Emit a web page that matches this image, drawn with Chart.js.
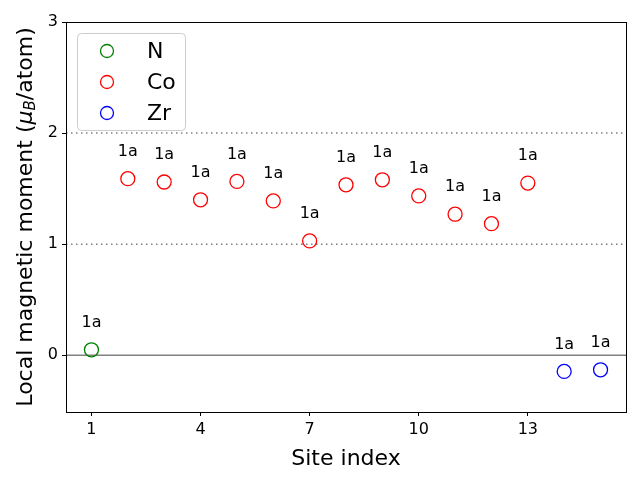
<!DOCTYPE html>
<html>
<head>
<meta charset="utf-8">
<script src="https://cdn.jsdelivr.net/npm/chart.js@4"></script>
<style>
  html, body { margin: 0; padding: 0; background: #fff; }
  #wrap { width: 640px; height: 480px; }
</style>
</head>
<body>
<div id="wrap"><canvas id="momentChart" width="640" height="480"></canvas></div>
<script>
// site data
const nSites = [1];
const nMoments = [0.05];
const coSites = [2, 3, 4, 5, 6, 7, 8, 9, 10, 11, 12, 13];
const coMoments = [1.59, 1.56, 1.40, 1.565, 1.39, 1.03, 1.535, 1.58, 1.435, 1.27, 1.185, 1.55];
const zrSites = [14, 15];
const zrMoments = [-0.145, -0.13];
const siteLabels = ['1a', '1a', '1a', '1a', '1a', '1a', '1a', '1a', '1a', '1a', '1a', '1a', '1a', '1a', '1a'];
const xTicks = [1, 4, 7, 10, 13];
const yTicks = [0, 1, 2, 3];
const refLines = [0, 1, 2];

const FONT = "'DejaVu Sans', sans-serif";

function toPoints(xs, ys) {
    return xs.map((x, i) => ({ x: x, y: ys[i] }));
}

function makeSet(label, color, xs, ys) {
    return {
        label: label,
        data: toPoints(xs, ys),
        showLine: false,
        pointRadius: 7,
        pointHoverRadius: 7,
        pointBorderWidth: 1.3,
        pointBackgroundColor: 'rgba(0,0,0,0)',
        pointBorderColor: color,
        borderColor: color,
        backgroundColor: 'rgba(0,0,0,0)'
    };
}

// horizontal reference lines + frame
const refLinePlugin = {
    id: 'refLines',
    beforeDatasetsDraw(chart) {
        const { ctx, chartArea: a, scales: { y } } = chart;
        ctx.save();
        refLines.forEach(v => {
            const py = y.getPixelForValue(v);
            ctx.beginPath();
            if (v === 0) {
                ctx.setLineDash([]);
            } else {
                ctx.setLineDash([1.5, 3.5]);
            }
            ctx.lineWidth = 1.5;
            ctx.strokeStyle = '#808080';
            ctx.moveTo(a.left, py);
            ctx.lineTo(a.right, py);
            ctx.stroke();
        });
        ctx.restore();
    },
    afterDraw(chart) {
        const { ctx, chartArea: a } = chart;
        ctx.save();
        ctx.strokeStyle = '#000';
        ctx.lineWidth = 1;
        ctx.strokeRect(a.left + 0.5, a.top + 0.5, a.right - a.left, a.bottom - a.top);
        ctx.restore();
    }
};

// wyckoff labels above each point
const siteLabelPlugin = {
    id: 'siteLabels',
    afterDatasetsDraw(chart) {
        const { ctx } = chart;
        ctx.save();
        ctx.font = '16px ' + FONT;
        ctx.fillStyle = '#000';
        ctx.textAlign = 'center';
        ctx.textBaseline = 'middle';
        chart.data.datasets.forEach((ds, di) => {
            const meta = chart.getDatasetMeta(di);
            meta.data.forEach((pt, i) => {
                const site = ds.data[i].x;
                ctx.fillText(siteLabels[site - 1], pt.x, pt.y - 27);
            });
        });
        ctx.restore();
    }
};

// legend box in upper left
const legendPlugin = {
    id: 'boxLegend',
    afterDraw(chart) {
        const { ctx, chartArea: a } = chart;
        const x0 = a.left + 11, y0 = a.top + 11, w = 108, h = 97;
        ctx.save();
        ctx.fillStyle = 'rgba(255,255,255,0.8)';
        ctx.strokeStyle = '#cccccc';
        ctx.lineWidth = 1;
        ctx.beginPath();
        ctx.roundRect(x0 + 0.5, y0 + 0.5, w, h, 4);
        ctx.fill();
        ctx.stroke();
        ctx.font = '22px ' + FONT;
        ctx.textBaseline = 'middle';
        ctx.textAlign = 'left';
        chart.data.datasets.forEach((ds, i) => {
            const cy = y0 + 18 + i * 31;
            ctx.beginPath();
            ctx.arc(x0 + 30, cy, 6.5, 0, Math.PI * 2);
            ctx.strokeStyle = ds.pointBorderColor;
            ctx.lineWidth = 1.3;
            ctx.stroke();
            ctx.fillStyle = '#000';
            ctx.fillText(ds.label, x0 + 70, cy + 1);
        });
        ctx.restore();
    }
};

// y title with mu_B
const yTitlePlugin = {
    id: 'yTitle',
    afterDraw(chart) {
        const { ctx, chartArea: a } = chart;
        const size = 22;
        const parts = [
            { t: 'Local magnetic moment (', f: size + 'px ' + FONT, dy: 0 },
            { t: '\u03bc', f: 'italic ' + size + 'px ' + FONT, dy: 0 },
            { t: 'B', f: 'italic ' + Math.round(size * 0.7) + 'px ' + FONT, dy: 5 },
            { t: '/atom)', f: size + 'px ' + FONT, dy: 0 }
        ];
        ctx.save();
        let total = 0;
        parts.forEach(p => { ctx.font = p.f; p.w = ctx.measureText(p.t).width; total += p.w; });
        ctx.translate(26, (a.top + a.bottom) / 2);
        ctx.rotate(-Math.PI / 2);
        ctx.fillStyle = '#000';
        ctx.textBaseline = 'middle';
        ctx.textAlign = 'left';
        let x = -total / 2;
        parts.forEach(p => {
            ctx.font = p.f;
            ctx.fillText(p.t, x, p.dy);
            x += p.w;
        });
        ctx.restore();
    }
};

const ctx = document.getElementById('momentChart').getContext('2d');
new Chart(ctx, {
    type: 'scatter',
    data: {
        datasets: [
            makeSet('N', 'green', nSites, nMoments),
            makeSet('Co', 'red', coSites, coMoments),
            makeSet('Zr', 'blue', zrSites, zrMoments)
        ]
    },
    options: {
        responsive: false,
        animation: false,
        layout: { padding: { top: 22, right: 14, left: 0, bottom: 8 } },
        plugins: {
            legend: { display: false },
            tooltip: { enabled: false }
        },
        scales: {
            x: {
                type: 'linear',
                min: 0.3,
                max: 15.7,
                afterBuildTicks: s => { s.ticks = xTicks.map(v => ({ value: v })); },
                afterFit: s => { s.height = 60; },
                grid: { drawOnChartArea: false, color: '#000', tickLength: 4, tickWidth: 1 },
                border: { color: '#000', width: 1 },
                ticks: { color: '#000', font: { family: FONT, size: 16 }, padding: 4, maxRotation: 0 },
                title: { display: true, text: 'Site index', color: '#000', font: { family: FONT, size: 22 }, padding: { top: 2, bottom: 0 } }
            },
            y: {
                type: 'linear',
                min: -0.51,
                max: 3,
                afterBuildTicks: s => { s.ticks = yTicks.map(v => ({ value: v })); },
                afterFit: s => { s.width = 66; },
                grid: { drawOnChartArea: false, color: '#000', tickLength: 4, tickWidth: 1 },
                border: { color: '#000', width: 1 },
                ticks: { color: '#000', font: { family: FONT, size: 16 }, padding: 4 }
            }
        }
    },
    plugins: [refLinePlugin, siteLabelPlugin, legendPlugin, yTitlePlugin]
});
</script>
</body>
</html>
